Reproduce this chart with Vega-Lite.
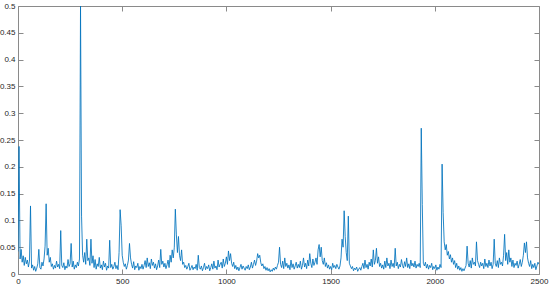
{
"$schema":"https://vega.github.io/schema/vega-lite/v6.json",
"width":521,"height":268,
"autosize":{"type":"none"},
"padding":{"left":18,"top":6,"right":11,"bottom":15},
"background":"white",
"config":{"view":{"stroke":null},"axis":{"labelFont":"Liberation Sans","labelFontSize":8,"labelColor":"#262626","domainColor":"#8a8a8a","tickColor":"#8a8a8a","domainWidth":1,"tickWidth":1,"grid":false,"title":null}},
"data":{"values":[
{"x":0,"y":0.042},{"x":5,"y":0.238},{"x":10,"y":0.028},{"x":15,"y":0.046},{"x":20,"y":0.022},{"x":25,"y":0.034},{"x":30,"y":0.016},{"x":35,"y":0.031},{"x":40,"y":0.019},{"x":45,"y":0.026},
{"x":50,"y":0.013},{"x":55,"y":0.024},{"x":60,"y":0.127},{"x":65,"y":0.011},{"x":70,"y":0.017},{"x":75,"y":0.007},{"x":80,"y":0.014},{"x":85,"y":0.005},{"x":90,"y":0.011},{"x":95,"y":0.019},
{"x":100,"y":0.046},{"x":105,"y":0.012},{"x":110,"y":0.009},{"x":115,"y":0.022},{"x":120,"y":0.015},{"x":125,"y":0.028},{"x":130,"y":0.052},{"x":135,"y":0.131},{"x":140,"y":0.035},{"x":145,"y":0.048},
{"x":150,"y":0.022},{"x":155,"y":0.031},{"x":160,"y":0.014},{"x":165,"y":0.019},{"x":170,"y":0.009},{"x":175,"y":0.016},{"x":180,"y":0.011},{"x":185,"y":0.024},{"x":190,"y":0.013},{"x":195,"y":0.018},
{"x":200,"y":0.01},{"x":205,"y":0.081},{"x":210,"y":0.016},{"x":215,"y":0.012},{"x":220,"y":0.021},{"x":225,"y":0.008},{"x":230,"y":0.015},{"x":235,"y":0.011},{"x":240,"y":0.027},{"x":245,"y":0.014},
{"x":250,"y":0.019},{"x":255,"y":0.057},{"x":260,"y":0.013},{"x":265,"y":0.024},{"x":270,"y":0.009},{"x":275,"y":0.017},{"x":280,"y":0.012},{"x":285,"y":0.022},{"x":290,"y":0.015},{"x":295,"y":0.028},
{"x":300,"y":0.5},{"x":305,"y":0.108},{"x":310,"y":0.035},{"x":315,"y":0.022},{"x":320,"y":0.04},{"x":325,"y":0.018},{"x":330,"y":0.065},{"x":335,"y":0.025},{"x":340,"y":0.03},{"x":345,"y":0.016},
{"x":350,"y":0.065},{"x":355,"y":0.02},{"x":360,"y":0.034},{"x":365,"y":0.012},{"x":370,"y":0.027},{"x":375,"y":0.009},{"x":380,"y":0.019},{"x":385,"y":0.014},{"x":390,"y":0.031},{"x":395,"y":0.011},
{"x":400,"y":0.017},{"x":405,"y":0.008},{"x":410,"y":0.024},{"x":415,"y":0.013},{"x":420,"y":0.02},{"x":425,"y":0.007},{"x":430,"y":0.015},{"x":435,"y":0.011},{"x":440,"y":0.063},{"x":445,"y":0.012},
{"x":450,"y":0.018},{"x":455,"y":0.009},{"x":460,"y":0.014},{"x":465,"y":0.022},{"x":470,"y":0.01},{"x":475,"y":0.016},{"x":480,"y":0.008},{"x":485,"y":0.04},{"x":490,"y":0.12},{"x":495,"y":0.09},
{"x":500,"y":0.035},{"x":505,"y":0.022},{"x":510,"y":0.014},{"x":515,"y":0.019},{"x":520,"y":0.009},{"x":525,"y":0.016},{"x":530,"y":0.026},{"x":535,"y":0.057},{"x":540,"y":0.03},{"x":545,"y":0.018},
{"x":550,"y":0.011},{"x":555,"y":0.023},{"x":560,"y":0.008},{"x":565,"y":0.015},{"x":570,"y":0.012},{"x":575,"y":0.02},{"x":580,"y":0.007},{"x":585,"y":0.014},{"x":590,"y":0.01},{"x":595,"y":0.018},
{"x":600,"y":0.009},{"x":605,"y":0.016},{"x":610,"y":0.025},{"x":615,"y":0.012},{"x":620,"y":0.03},{"x":625,"y":0.014},{"x":630,"y":0.021},{"x":635,"y":0.01},{"x":640,"y":0.028},{"x":645,"y":0.016},
{"x":650,"y":0.022},{"x":655,"y":0.011},{"x":660,"y":0.019},{"x":665,"y":0.008},{"x":670,"y":0.015},{"x":675,"y":0.026},{"x":680,"y":0.012},{"x":685,"y":0.046},{"x":690,"y":0.018},{"x":695,"y":0.024},
{"x":700,"y":0.013},{"x":705,"y":0.02},{"x":710,"y":0.01},{"x":715,"y":0.017},{"x":720,"y":0.026},{"x":725,"y":0.012},{"x":730,"y":0.035},{"x":735,"y":0.022},{"x":740,"y":0.045},{"x":745,"y":0.03},
{"x":750,"y":0.05},{"x":755,"y":0.121},{"x":760,"y":0.073},{"x":765,"y":0.04},{"x":770,"y":0.07},{"x":775,"y":0.035},{"x":780,"y":0.025},{"x":785,"y":0.045},{"x":790,"y":0.018},{"x":795,"y":0.022},
{"x":800,"y":0.012},{"x":805,"y":0.016},{"x":810,"y":0.009},{"x":815,"y":0.014},{"x":820,"y":0.02},{"x":825,"y":0.007},{"x":830,"y":0.011},{"x":835,"y":0.016},{"x":840,"y":0.008},{"x":845,"y":0.013},
{"x":850,"y":0.01},{"x":855,"y":0.018},{"x":860,"y":0.007},{"x":865,"y":0.035},{"x":870,"y":0.012},{"x":875,"y":0.009},{"x":880,"y":0.015},{"x":885,"y":0.006},{"x":890,"y":0.012},{"x":895,"y":0.02},
{"x":900,"y":0.008},{"x":905,"y":0.014},{"x":910,"y":0.01},{"x":915,"y":0.017},{"x":920,"y":0.006},{"x":925,"y":0.012},{"x":930,"y":0.019},{"x":935,"y":0.009},{"x":940,"y":0.024},{"x":945,"y":0.011},
{"x":950,"y":0.015},{"x":955,"y":0.008},{"x":960,"y":0.026},{"x":965,"y":0.013},{"x":970,"y":0.018},{"x":975,"y":0.022},{"x":980,"y":0.011},{"x":985,"y":0.028},{"x":990,"y":0.014},{"x":995,"y":0.02},
{"x":1000,"y":0.032},{"x":1005,"y":0.018},{"x":1010,"y":0.043},{"x":1015,"y":0.025},{"x":1020,"y":0.038},{"x":1025,"y":0.02},{"x":1030,"y":0.014},{"x":1035,"y":0.022},{"x":1040,"y":0.01},{"x":1045,"y":0.016},
{"x":1050,"y":0.008},{"x":1055,"y":0.013},{"x":1060,"y":0.006},{"x":1065,"y":0.012},{"x":1070,"y":0.018},{"x":1075,"y":0.009},{"x":1080,"y":0.015},{"x":1085,"y":0.011},{"x":1090,"y":0.007},{"x":1095,"y":0.014},
{"x":1100,"y":0.01},{"x":1105,"y":0.017},{"x":1110,"y":0.008},{"x":1115,"y":0.013},{"x":1120,"y":0.022},{"x":1125,"y":0.011},{"x":1130,"y":0.018},{"x":1135,"y":0.026},{"x":1140,"y":0.016},{"x":1145,"y":0.024},
{"x":1150,"y":0.038},{"x":1155,"y":0.03},{"x":1160,"y":0.035},{"x":1165,"y":0.021},{"x":1170,"y":0.015},{"x":1175,"y":0.019},{"x":1180,"y":0.01},{"x":1185,"y":0.014},{"x":1190,"y":0.007},{"x":1195,"y":0.012},
{"x":1200,"y":0.006},{"x":1205,"y":0.01},{"x":1210,"y":0.004},{"x":1215,"y":0.008},{"x":1220,"y":0.005},{"x":1225,"y":0.011},{"x":1230,"y":0.007},{"x":1235,"y":0.013},{"x":1240,"y":0.009},{"x":1245,"y":0.016},
{"x":1250,"y":0.022},{"x":1255,"y":0.05},{"x":1260,"y":0.018},{"x":1265,"y":0.012},{"x":1270,"y":0.024},{"x":1275,"y":0.01},{"x":1280,"y":0.03},{"x":1285,"y":0.014},{"x":1290,"y":0.02},{"x":1295,"y":0.011},
{"x":1300,"y":0.017},{"x":1305,"y":0.008},{"x":1310,"y":0.026},{"x":1315,"y":0.012},{"x":1320,"y":0.019},{"x":1325,"y":0.009},{"x":1330,"y":0.015},{"x":1335,"y":0.022},{"x":1340,"y":0.011},{"x":1345,"y":0.018},
{"x":1350,"y":0.012},{"x":1355,"y":0.024},{"x":1360,"y":0.009},{"x":1365,"y":0.016},{"x":1370,"y":0.03},{"x":1375,"y":0.013},{"x":1380,"y":0.02},{"x":1385,"y":0.01},{"x":1390,"y":0.026},{"x":1395,"y":0.015},
{"x":1400,"y":0.038},{"x":1405,"y":0.02},{"x":1410,"y":0.012},{"x":1415,"y":0.028},{"x":1420,"y":0.016},{"x":1425,"y":0.022},{"x":1430,"y":0.03},{"x":1435,"y":0.018},{"x":1440,"y":0.045},{"x":1445,"y":0.055},
{"x":1450,"y":0.032},{"x":1455,"y":0.05},{"x":1460,"y":0.025},{"x":1465,"y":0.018},{"x":1470,"y":0.03},{"x":1475,"y":0.014},{"x":1480,"y":0.021},{"x":1485,"y":0.011},{"x":1490,"y":0.017},{"x":1495,"y":0.009},
{"x":1500,"y":0.014},{"x":1505,"y":0.008},{"x":1510,"y":0.02},{"x":1515,"y":0.012},{"x":1520,"y":0.016},{"x":1525,"y":0.01},{"x":1530,"y":0.018},{"x":1535,"y":0.013},{"x":1540,"y":0.009},{"x":1545,"y":0.015},
{"x":1550,"y":0.03},{"x":1555,"y":0.065},{"x":1560,"y":0.05},{"x":1565,"y":0.118},{"x":1570,"y":0.07},{"x":1575,"y":0.04},{"x":1580,"y":0.025},{"x":1585,"y":0.108},{"x":1590,"y":0.02},{"x":1595,"y":0.015},
{"x":1600,"y":0.01},{"x":1605,"y":0.014},{"x":1610,"y":0.006},{"x":1615,"y":0.011},{"x":1620,"y":0.008},{"x":1625,"y":0.013},{"x":1630,"y":0.005},{"x":1635,"y":0.009},{"x":1640,"y":0.012},{"x":1645,"y":0.007},
{"x":1650,"y":0.014},{"x":1655,"y":0.02},{"x":1660,"y":0.01},{"x":1665,"y":0.026},{"x":1670,"y":0.012},{"x":1675,"y":0.018},{"x":1680,"y":0.009},{"x":1685,"y":0.022},{"x":1690,"y":0.015},{"x":1695,"y":0.028},
{"x":1700,"y":0.013},{"x":1705,"y":0.045},{"x":1710,"y":0.018},{"x":1715,"y":0.025},{"x":1720,"y":0.048},{"x":1725,"y":0.02},{"x":1730,"y":0.032},{"x":1735,"y":0.014},{"x":1740,"y":0.02},{"x":1745,"y":0.011},
{"x":1750,"y":0.017},{"x":1755,"y":0.009},{"x":1760,"y":0.024},{"x":1765,"y":0.012},{"x":1770,"y":0.03},{"x":1775,"y":0.015},{"x":1780,"y":0.02},{"x":1785,"y":0.01},{"x":1790,"y":0.026},{"x":1795,"y":0.014},
{"x":1800,"y":0.02},{"x":1805,"y":0.012},{"x":1810,"y":0.048},{"x":1815,"y":0.015},{"x":1820,"y":0.022},{"x":1825,"y":0.01},{"x":1830,"y":0.018},{"x":1835,"y":0.013},{"x":1840,"y":0.027},{"x":1845,"y":0.016},
{"x":1850,"y":0.011},{"x":1855,"y":0.023},{"x":1860,"y":0.014},{"x":1865,"y":0.03},{"x":1870,"y":0.012},{"x":1875,"y":0.019},{"x":1880,"y":0.01},{"x":1885,"y":0.026},{"x":1890,"y":0.015},{"x":1895,"y":0.02},
{"x":1900,"y":0.013},{"x":1905,"y":0.024},{"x":1910,"y":0.011},{"x":1915,"y":0.018},{"x":1920,"y":0.014},{"x":1925,"y":0.02},{"x":1930,"y":0.012},{"x":1935,"y":0.272},{"x":1940,"y":0.13},{"x":1945,"y":0.02},
{"x":1950,"y":0.015},{"x":1955,"y":0.022},{"x":1960,"y":0.011},{"x":1965,"y":0.018},{"x":1970,"y":0.009},{"x":1975,"y":0.016},{"x":1980,"y":0.012},{"x":1985,"y":0.02},{"x":1990,"y":0.008},{"x":1995,"y":0.014},
{"x":2000,"y":0.01},{"x":2005,"y":0.017},{"x":2010,"y":0.007},{"x":2015,"y":0.013},{"x":2020,"y":0.009},{"x":2025,"y":0.018},{"x":2030,"y":0.012},{"x":2035,"y":0.205},{"x":2040,"y":0.115},{"x":2045,"y":0.06},
{"x":2050,"y":0.045},{"x":2055,"y":0.055},{"x":2060,"y":0.035},{"x":2065,"y":0.042},{"x":2070,"y":0.028},{"x":2075,"y":0.036},{"x":2080,"y":0.022},{"x":2085,"y":0.03},{"x":2090,"y":0.018},{"x":2095,"y":0.025},
{"x":2100,"y":0.012},{"x":2105,"y":0.02},{"x":2110,"y":0.009},{"x":2115,"y":0.015},{"x":2120,"y":0.007},{"x":2125,"y":0.012},{"x":2130,"y":0.005},{"x":2135,"y":0.01},{"x":2140,"y":0.006},{"x":2145,"y":0.011},
{"x":2150,"y":0.016},{"x":2155,"y":0.052},{"x":2160,"y":0.02},{"x":2165,"y":0.013},{"x":2170,"y":0.025},{"x":2175,"y":0.011},{"x":2180,"y":0.03},{"x":2185,"y":0.018},{"x":2190,"y":0.022},{"x":2195,"y":0.015},
{"x":2200,"y":0.06},{"x":2205,"y":0.025},{"x":2210,"y":0.018},{"x":2215,"y":0.012},{"x":2220,"y":0.022},{"x":2225,"y":0.015},{"x":2230,"y":0.02},{"x":2235,"y":0.01},{"x":2240,"y":0.028},{"x":2245,"y":0.014},
{"x":2250,"y":0.02},{"x":2255,"y":0.012},{"x":2260,"y":0.026},{"x":2265,"y":0.015},{"x":2270,"y":0.022},{"x":2275,"y":0.01},{"x":2280,"y":0.018},{"x":2285,"y":0.065},{"x":2290,"y":0.02},{"x":2295,"y":0.014},
{"x":2300,"y":0.025},{"x":2305,"y":0.012},{"x":2310,"y":0.03},{"x":2315,"y":0.018},{"x":2320,"y":0.022},{"x":2325,"y":0.015},{"x":2330,"y":0.035},{"x":2335,"y":0.074},{"x":2340,"y":0.025},{"x":2345,"y":0.04},
{"x":2350,"y":0.018},{"x":2355,"y":0.045},{"x":2360,"y":0.022},{"x":2365,"y":0.03},{"x":2370,"y":0.014},{"x":2375,"y":0.026},{"x":2380,"y":0.012},{"x":2385,"y":0.02},{"x":2390,"y":0.016},{"x":2395,"y":0.024},
{"x":2400,"y":0.011},{"x":2405,"y":0.018},{"x":2410,"y":0.027},{"x":2415,"y":0.014},{"x":2420,"y":0.022},{"x":2425,"y":0.035},{"x":2430,"y":0.058},{"x":2435,"y":0.04},{"x":2440,"y":0.06},{"x":2445,"y":0.03},
{"x":2450,"y":0.02},{"x":2455,"y":0.014},{"x":2460,"y":0.025},{"x":2465,"y":0.01},{"x":2470,"y":0.018},{"x":2475,"y":0.012},{"x":2480,"y":0.02},{"x":2485,"y":0.008},{"x":2490,"y":0.015},{"x":2495,"y":0.022},
{"x":2500,"y":0.018}
]},
"layer":[
{"mark":{"type":"line","color":"#0072BD","strokeWidth":0.85,"clip":true},
 "encoding":{
  "x":{"field":"x","type":"quantitative","scale":{"domain":[0,2500],"nice":false},"axis":{"orient":"bottom","values":[0,500,1000,1500,2000,2500],"format":"d","tickSize":-5,"labelPadding":8,"labelFlush":false}},
  "y":{"field":"y","type":"quantitative","scale":{"domain":[0,0.5],"nice":false,"zero":true},"axis":{"orient":"left","values":[0,0.05,0.1,0.15,0.2,0.25,0.3,0.35,0.4,0.45,0.5],"format":"~g","tickSize":-5,"labelPadding":8,"labelFlush":false}}
 }},
{"mark":{"type":"line","strokeOpacity":0},
 "encoding":{
  "x":{"field":"x","type":"quantitative","scale":{"domain":[0,2500],"nice":false},"axis":{"orient":"top","values":[0,500,1000,1500,2000,2500],"labels":false,"tickSize":-5}},
  "y":{"field":"y","type":"quantitative","scale":{"domain":[0,0.5],"nice":false},"axis":{"orient":"right","values":[0,0.05,0.1,0.15,0.2,0.25,0.3,0.35,0.4,0.45,0.5],"labels":false,"tickSize":-5}}
 }}
],
"resolve":{"axis":{"x":"independent","y":"independent"}}
}
